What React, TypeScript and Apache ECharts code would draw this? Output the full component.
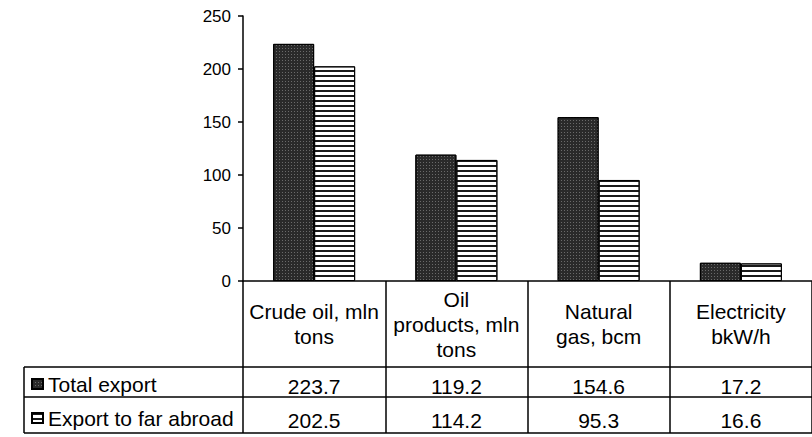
import React, { useEffect, useRef } from "react";
import * as echarts from "echarts";

const categories = [
  "Crude oil, mln\ntons",
  "Oil\nproducts, mln\ntons",
  "Natural\ngas, bcm",
  "Electricity\nbkW/h",
];
const seriesNames = ["Total export", "Export to far abroad"];
const totalExport = [223.7, 119.2, 154.6, 17.2];
const farAbroad = [202.5, 114.2, 95.3, 16.6];
const yMin = 0;
const yMax = 250;
const yInterval = 50;

const W = 812;
const H = 437;
const GRID_LEFT = 243;
const GRID_TOP = 16;
const AXIS_Y = 281;
const ROW1 = 367;
const ROW2 = 397;
const ROW3 = 433;
const TABLE_LEFT = 24;
const FONT = "'Liberation Sans', Arial, Helvetica, sans-serif";

export default function App() {
  const ref = useRef<HTMLDivElement>(null);
  useEffect(() => {
    if (!ref.current) return;
    const chart = echarts.init(ref.current, null, { renderer: "svg" });
    const lineStyle = { stroke: "#000", lineWidth: 1.5 };
    const tableText = { fontSize: 21, color: "#000", fontFamily: FONT };
    chart.setOption({
      animation: false,
      backgroundColor: "#fff",
      textStyle: { fontFamily: FONT },
      grid: { left: GRID_LEFT, top: GRID_TOP, right: -2, bottom: H - AXIS_Y, containLabel: false },
      legend: {
        data: seriesNames,
        orient: "vertical",
        left: 31,
        top: 372,
        padding: 0,
        itemWidth: 11,
        itemHeight: 10,
        itemGap: 10,
        icon: "rect",
        selectedMode: false,
        textStyle: { ...tableText, lineHeight: 24 },
      },
      xAxis: [
        {
          type: "category",
          data: categories,
          position: "bottom",
          axisLine: { show: true, lineStyle: { color: "#000", width: 1.5 } },
          axisTick: { show: true, length: ROW3 - AXIS_Y, lineStyle: { color: "#000", width: 1.5 } },
          axisLabel: { ...tableText, interval: 0, margin: 43, verticalAlign: "middle", lineHeight: 25, align: "center" },
          splitLine: { show: false },
        },
        {
          type: "category",
          data: totalExport.map((v) => v.toFixed(1)),
          position: "bottom",
          axisLine: { show: false },
          axisTick: { show: false },
          axisLabel: { ...tableText, interval: 0, margin: 105, verticalAlign: "middle" },
          splitLine: { show: false },
        },
        {
          type: "category",
          data: farAbroad.map((v) => v.toFixed(1)),
          position: "bottom",
          axisLine: { show: false },
          axisTick: { show: false },
          axisLabel: { ...tableText, interval: 0, margin: 139, verticalAlign: "middle" },
          splitLine: { show: false },
        },
      ],
      yAxis: {
        type: "value",
        min: yMin,
        max: yMax,
        interval: yInterval,
        axisLine: { show: true, lineStyle: { color: "#000", width: 1.5 } },
        axisTick: { show: true, length: 5, lineStyle: { color: "#000", width: 1.5 } },
        splitLine: { show: false },
        axisLabel: { fontSize: 17, color: "#000", margin: 12, fontFamily: FONT },
      },
      series: [
        {
          name: seriesNames[0],
          type: "bar",
          xAxisIndex: 0,
          data: totalExport,
          barWidth: 41,
          barGap: "0%",
          itemStyle: {
            color: "#2a2a2a",
            borderColor: "#000",
            borderWidth: 1,
            decal: {
              symbol: "rect",
              symbolSize: 1,
              color: "rgba(255,255,255,0.3)",
              dashArrayX: [1, 2],
              dashArrayY: [1, 2],
              rotation: 0,
            },
          },
        },
        {
          name: seriesNames[1],
          type: "bar",
          xAxisIndex: 0,
          data: farAbroad,
          barWidth: 41,
          barGap: "0%",
          itemStyle: {
            color: "#fff",
            borderColor: "#000",
            borderWidth: 1,
            decal: {
              symbol: "rect",
              symbolSize: 1,
              color: "#1a1a1a",
              dashArrayX: [1, 0],
              dashArrayY: [1.4, 2.6],
              rotation: 0,
            },
          },
        },
      ],
      graphic: [
        { type: "line", shape: { x1: TABLE_LEFT, y1: ROW1, x2: W, y2: ROW1 }, style: lineStyle, silent: true },
        { type: "line", shape: { x1: TABLE_LEFT, y1: ROW2, x2: W, y2: ROW2 }, style: lineStyle, silent: true },
        { type: "line", shape: { x1: TABLE_LEFT, y1: ROW3, x2: W, y2: ROW3 }, style: lineStyle, silent: true },
        { type: "line", shape: { x1: TABLE_LEFT, y1: ROW1, x2: TABLE_LEFT, y2: ROW3 }, style: lineStyle, silent: true },
      ],
    });
    return () => chart.dispose();
  }, []);
  return (
    <div
      ref={ref}
      style={{ position: "fixed", left: 0, top: 0, width: W, height: H, background: "#fff" }}
    />
  );
}
